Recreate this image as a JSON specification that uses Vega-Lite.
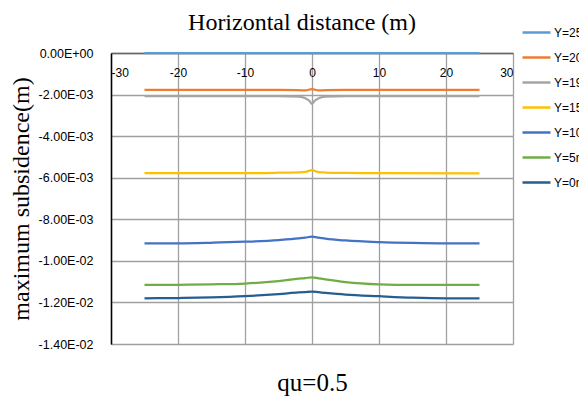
{
  "$schema": "https://vega.github.io/schema/vega-lite/v6.json",
  "width": 402,
  "height": 291,
  "autosize": {"type": "none"},
  "padding": {"left": 111, "top": 53, "right": 66, "bottom": 55},
  "background": "white",
  "title": {
    "text": "Horizontal distance (m)",
    "font": "Liberation Serif",
    "fontSize": 24,
    "fontWeight": "normal",
    "color": "#000000",
    "anchor": "middle",
    "frame": "group",
    "dx": -10,
    "offset": -18
  },
  "data": {
    "values": [
      {"x": -25, "s": 0, "series": "Y=25m"},
      {"x": 25, "s": 0, "series": "Y=25m"},

      {"x": -25, "s": -0.00178, "series": "Y=20m"},
      {"x": -20, "s": -0.00178, "series": "Y=20m"},
      {"x": -10, "s": -0.00178, "series": "Y=20m"},
      {"x": -5, "s": -0.00178, "series": "Y=20m"},
      {"x": -2, "s": -0.00179, "series": "Y=20m"},
      {"x": -1, "s": -0.0018, "series": "Y=20m"},
      {"x": 0, "s": -0.00174, "series": "Y=20m"},
      {"x": 1, "s": -0.0018, "series": "Y=20m"},
      {"x": 2, "s": -0.00179, "series": "Y=20m"},
      {"x": 5, "s": -0.00178, "series": "Y=20m"},
      {"x": 10, "s": -0.00178, "series": "Y=20m"},
      {"x": 20, "s": -0.00178, "series": "Y=20m"},
      {"x": 25, "s": -0.00178, "series": "Y=20m"},

      {"x": -25, "s": -0.00207, "series": "Y=19m"},
      {"x": -10, "s": -0.00207, "series": "Y=19m"},
      {"x": -5, "s": -0.00207, "series": "Y=19m"},
      {"x": -2, "s": -0.0021, "series": "Y=19m"},
      {"x": -1, "s": -0.00218, "series": "Y=19m"},
      {"x": -0.4, "s": -0.0023, "series": "Y=19m"},
      {"x": 0, "s": -0.00245, "series": "Y=19m"},
      {"x": 0.4, "s": -0.0023, "series": "Y=19m"},
      {"x": 1, "s": -0.00218, "series": "Y=19m"},
      {"x": 2, "s": -0.0021, "series": "Y=19m"},
      {"x": 5, "s": -0.00207, "series": "Y=19m"},
      {"x": 10, "s": -0.00207, "series": "Y=19m"},
      {"x": 25, "s": -0.00207, "series": "Y=19m"},

      {"x": -25, "s": -0.00578, "series": "Y=15m"},
      {"x": -10, "s": -0.00578, "series": "Y=15m"},
      {"x": -5, "s": -0.00576, "series": "Y=15m"},
      {"x": -2, "s": -0.00574, "series": "Y=15m"},
      {"x": -1, "s": -0.00572, "series": "Y=15m"},
      {"x": 0, "s": -0.00564, "series": "Y=15m"},
      {"x": 1, "s": -0.00573, "series": "Y=15m"},
      {"x": 2, "s": -0.00575, "series": "Y=15m"},
      {"x": 5, "s": -0.00577, "series": "Y=15m"},
      {"x": 10, "s": -0.00578, "series": "Y=15m"},
      {"x": 25, "s": -0.00579, "series": "Y=15m"},

      {"x": -25, "s": -0.00916, "series": "Y=10m"},
      {"x": -20, "s": -0.00916, "series": "Y=10m"},
      {"x": -15, "s": -0.00913, "series": "Y=10m"},
      {"x": -10, "s": -0.00908, "series": "Y=10m"},
      {"x": -5, "s": -0.009, "series": "Y=10m"},
      {"x": -2, "s": -0.00892, "series": "Y=10m"},
      {"x": -1, "s": -0.00888, "series": "Y=10m"},
      {"x": 0, "s": -0.00884, "series": "Y=10m"},
      {"x": 1, "s": -0.00888, "series": "Y=10m"},
      {"x": 2, "s": -0.00893, "series": "Y=10m"},
      {"x": 5, "s": -0.00902, "series": "Y=10m"},
      {"x": 10, "s": -0.0091, "series": "Y=10m"},
      {"x": 15, "s": -0.00914, "series": "Y=10m"},
      {"x": 20, "s": -0.00916, "series": "Y=10m"},
      {"x": 25, "s": -0.00916, "series": "Y=10m"},

      {"x": -25, "s": -0.01116, "series": "Y=5m"},
      {"x": -20, "s": -0.01115, "series": "Y=5m"},
      {"x": -15, "s": -0.01113, "series": "Y=5m"},
      {"x": -10, "s": -0.01109, "series": "Y=5m"},
      {"x": -5, "s": -0.01097, "series": "Y=5m"},
      {"x": -2, "s": -0.01086, "series": "Y=5m"},
      {"x": -1, "s": -0.01083, "series": "Y=5m"},
      {"x": 0, "s": -0.01079, "series": "Y=5m"},
      {"x": 1, "s": -0.01084, "series": "Y=5m"},
      {"x": 2, "s": -0.01089, "series": "Y=5m"},
      {"x": 5, "s": -0.01102, "series": "Y=5m"},
      {"x": 10, "s": -0.01113, "series": "Y=5m"},
      {"x": 15, "s": -0.01116, "series": "Y=5m"},
      {"x": 20, "s": -0.01116, "series": "Y=5m"},
      {"x": 25, "s": -0.01116, "series": "Y=5m"},

      {"x": -25, "s": -0.0118, "series": "Y=0m"},
      {"x": -20, "s": -0.01179, "series": "Y=0m"},
      {"x": -15, "s": -0.01176, "series": "Y=0m"},
      {"x": -10, "s": -0.0117, "series": "Y=0m"},
      {"x": -5, "s": -0.0116, "series": "Y=0m"},
      {"x": -2, "s": -0.01152, "series": "Y=0m"},
      {"x": -1, "s": -0.0115, "series": "Y=0m"},
      {"x": 0, "s": -0.01148, "series": "Y=0m"},
      {"x": 1, "s": -0.01151, "series": "Y=0m"},
      {"x": 2, "s": -0.01154, "series": "Y=0m"},
      {"x": 5, "s": -0.01162, "series": "Y=0m"},
      {"x": 10, "s": -0.0117, "series": "Y=0m"},
      {"x": 15, "s": -0.01177, "series": "Y=0m"},
      {"x": 20, "s": -0.0118, "series": "Y=0m"},
      {"x": 25, "s": -0.0118, "series": "Y=0m"}
    ]
  },
  "mark": {"type": "line", "interpolate": "monotone", "strokeWidth": 2.25},
  "encoding": {
    "x": {
      "field": "x",
      "type": "quantitative",
      "scale": {"domain": [-30, 30], "nice": false, "zero": false},
      "axis": {
        "orient": "bottom",
        "offset": -291,
        "values": [-30, -20, -10, 0, 10, 20, 30],
        "labelExpr": "(datum.value < 0 ? '-' : '') + abs(datum.value)",
        "ticks": false,
        "labelPadding": 14,
        "labelFont": "Liberation Sans",
        "labelFontSize": 12,
        "labelColor": "#000000",
        "domainColor": "#666666",
        "domainWidth": 1.5,
        "grid": true,
        "gridColor": "#a0a0a0",
        "gridWidth": 1.3,
        "title": "qu=0.5",
        "titleFont": "Liberation Serif",
        "titleFontSize": 25,
        "titleFontWeight": "normal",
        "titleColor": "#000000",
        "titlePadding": 292
      }
    },
    "y": {
      "field": "s",
      "type": "quantitative",
      "scale": {"domain": [-0.014, 0], "nice": false},
      "axis": {
        "values": [-0.014, -0.012, -0.01, -0.008, -0.006, -0.004, -0.002, 0],
        "labelExpr": "(datum.value < 0 ? '-' : '') + replace(replace(format(abs(datum.value), '.2e'), 'e-', 'E-0'), 'e+', 'E+0')",
        "ticks": false,
        "labelPadding": 18,
        "labelFont": "Liberation Sans",
        "labelFontSize": 12.5,
        "labelColor": "#000000",
        "domainColor": "#000000",
        "domainWidth": 1.5,
        "grid": true,
        "gridColor": "#a0a0a0",
        "gridWidth": 1.3,
        "title": "maximum subsidence(m)",
        "titleFont": "Liberation Serif",
        "titleFontSize": 24,
        "titleFontWeight": "normal",
        "titleColor": "#000000",
        "titlePadding": 5
      }
    },
    "color": {
      "field": "series",
      "type": "nominal",
      "scale": {
        "domain": ["Y=25m", "Y=20m", "Y=19m", "Y=15m", "Y=10m", "Y=5m", "Y=0m"],
        "range": ["#5B9BD5", "#ED7D31", "#A5A5A5", "#FFC000", "#4472C4", "#70AD47", "#255E91"]
      },
      "legend": {
        "title": null,
        "orient": "none",
        "legendX": 410,
        "legendY": -36,
        "padding": 0,
        "symbolType": "stroke",
        "symbolSize": 784,
        "symbolStrokeWidth": 2.5,
        "rowPadding": 3,
        "labelFont": "Liberation Sans",
        "labelFontSize": 12,
        "labelColor": "#000000",
        "labelOffset": 2,
        "labelLimit": 200
      }
    }
  },
  "config": {
    "view": {"stroke": null}
  }
}
